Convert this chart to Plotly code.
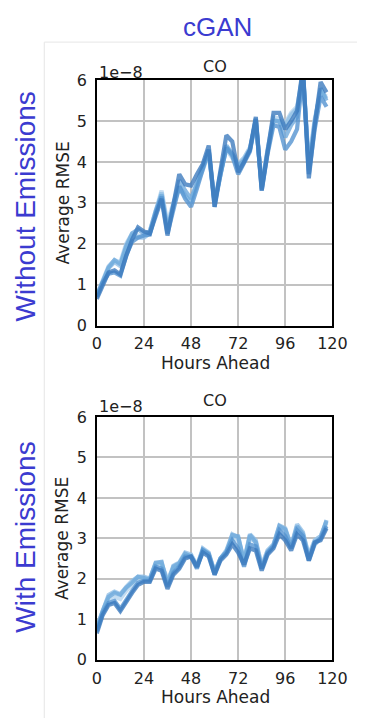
import plotly.graph_objects as go

W, H = 372, 728

hours = [0, 3, 6, 9, 12, 15, 18, 21, 24, 27, 30, 33, 36, 39, 42, 45, 48, 51, 54, 57,
         60, 63, 66, 69, 72, 75, 78, 81, 84, 87, 90, 93, 96, 99, 102, 105, 108, 111, 114, 117]

# Without emissions (values in units of 1e-8)
top_a = [0.65, 1.0, 1.3, 1.35, 1.25, 1.7, 2.1, 2.4, 2.3, 2.25, 2.7, 3.1, 2.2, 2.9, 3.7, 3.45, 3.42, 3.7, 3.95, 4.4,
         2.9, 3.8, 4.65, 4.5, 3.75, 4.0, 4.3, 5.1, 3.3, 4.25, 5.2, 5.2, 4.8, 5.0, 5.25, 6.3, 3.6, 4.9, 5.95, 5.7]
top_b = [0.7, 1.05, 1.27, 1.3, 1.22, 1.72, 2.05, 2.15, 2.2, 2.22, 2.75, 3.15, 2.25, 2.85, 3.4, 3.1, 2.9, 3.35, 3.85, 4.3,
         2.9, 3.7, 4.35, 4.15, 3.7, 4.0, 4.25, 5.05, 3.3, 4.2, 4.9, 4.85, 4.3, 4.5, 4.8, 6.2, 3.7, 4.8, 5.6, 5.35]
top_c = [0.72, 1.1, 1.42, 1.6, 1.5, 1.95, 2.25, 2.35, 2.25, 2.3, 2.8, 3.2, 2.35, 2.95, 3.55, 3.3, 3.1, 3.5, 3.9, 4.3,
         3.0, 3.75, 4.4, 4.2, 3.9, 4.05, 4.3, 5.05, 3.35, 4.25, 5.0, 5.0, 4.6, 4.9, 5.1, 6.25, 3.8, 4.95, 5.8, 5.5]
top_d = [0.7, 1.08, 1.4, 1.55, 1.45, 1.9, 2.2, 2.15, 2.15, 2.25, 2.8, 3.25, 2.4, 2.9, 3.4, 3.2, 3.0, 3.45, 3.85, 4.25,
         3.0, 3.7, 4.35, 4.2, 3.95, 4.1, 4.35, 5.0, 3.4, 4.3, 5.05, 4.95, 4.9, 5.15, 5.3, 6.2, 3.9, 5.0, 5.75, 5.55]
top_e = [0.75, 1.1, 1.45, 1.6, 1.55, 2.0, 2.25, 2.2, 2.2, 2.3, 2.85, 3.3, 2.5, 3.0, 3.35, 3.15, 3.05, 3.4, 3.8, 4.2,
         3.05, 3.75, 4.3, 4.1, 3.85, 4.05, 4.3, 4.95, 3.45, 4.3, 5.1, 5.05, 4.95, 5.2, 5.35, 6.1, 3.95, 5.05, 5.7, 5.6]

# With emissions
bot_a = [0.65, 1.1, 1.35, 1.4, 1.2, 1.45, 1.65, 1.85, 1.92, 1.92, 2.25, 2.2, 1.75, 2.1, 2.25, 2.5, 2.55, 2.3, 2.65, 2.55,
         2.1, 2.45, 2.6, 2.85, 2.65, 2.35, 2.75, 2.7, 2.2, 2.6, 2.75, 3.1, 2.95, 2.7, 3.1, 2.95, 2.45, 2.9, 2.95, 3.25]
bot_b = [0.7, 1.15, 1.4, 1.45, 1.25, 1.5, 1.7, 1.9, 1.95, 1.95, 2.3, 2.25, 1.8, 2.15, 2.3, 2.55, 2.55, 2.25, 2.7, 2.6,
         2.1, 2.5, 2.65, 2.95, 2.75, 2.3, 2.85, 2.8, 2.25, 2.65, 2.8, 3.2, 3.05, 2.75, 3.2, 3.05, 2.45, 2.85, 3.0, 3.3]
bot_c = [0.75, 1.2, 1.55, 1.65, 1.6, 1.78, 1.9, 2.05, 2.02, 1.98, 2.4, 2.42, 1.85, 2.3, 2.38, 2.62, 2.55, 2.28, 2.72, 2.62,
         2.15, 2.5, 2.65, 3.08, 3.05, 2.4, 3.08, 2.9, 2.25, 2.65, 2.82, 3.3, 3.22, 2.78, 3.3, 3.1, 2.5, 2.9, 3.0, 3.45]
bot_d = [0.8, 1.2, 1.6, 1.68, 1.62, 1.8, 1.95, 2.05, 2.05, 2.0, 2.38, 2.4, 1.9, 2.32, 2.4, 2.65, 2.6, 2.3, 2.75, 2.65,
         2.15, 2.5, 2.7, 3.1, 3.02, 2.45, 3.1, 2.95, 2.3, 2.7, 2.85, 3.32, 3.25, 2.8, 3.35, 3.15, 2.55, 2.95, 3.05, 3.42]
bot_e = [0.78, 1.18, 1.5, 1.55, 1.5, 1.7, 1.85, 2.0, 2.0, 2.0, 2.35, 2.35, 2.0, 2.25, 2.35, 2.6, 2.58, 2.35, 2.7, 2.6,
         2.2, 2.5, 2.7, 3.0, 2.95, 2.5, 3.0, 2.9, 2.35, 2.7, 2.85, 3.25, 3.2, 2.85, 3.25, 3.1, 2.6, 2.95, 3.05, 3.38]

x_ticks = [0, 24, 48, 72, 96, 120]
y_ticks = [0, 1, 2, 3, 4, 5, 6]
line_colors = ["#b5d4ef", "#91bfe6", "#6fa9dc", "#5392d0", "#3a79bd"]

TITLE_BLUE = "#3b3bd0"
AX_FONT = "DejaVu Sans"

def px_x(p):
    return p / W

def px_y(p):
    return 1 - p / H

fig = go.Figure()

panels = [
    (["x", "y"], [top_e, top_d, top_c, top_b, top_a]),
    (["x2", "y2"], [bot_e, bot_d, bot_c, bot_b, bot_a]),
]
for (xa, ya), series in panels:
    for s, c in zip(series, line_colors):
        fig.add_trace(go.Scatter(x=hours, y=s, mode="lines", xaxis=xa, yaxis=ya,
                                 line=dict(color=c, width=4.2), opacity=0.78,
                                 showlegend=False, hoverinfo="skip"))

xdom = [px_x(97), px_x(346)]
top_y = [px_y(325), px_y(73)]
bot_y = [px_y(668), px_y(419)]

axis_common = dict(showline=True, linecolor="black", linewidth=1.5, mirror=True,
                   showgrid=True, gridcolor="#c2c2c2", gridwidth=1.5, zeroline=False,
                   ticks="", tickfont=dict(family=AX_FONT, size=16, color="#222"))

fig.update_layout(
    width=W, height=H, margin=dict(l=0, r=0, t=0, b=0),
    paper_bgcolor="white", plot_bgcolor="white",
    xaxis=dict(domain=xdom, anchor="y", range=[0, 120], tickvals=x_ticks,
               ticklabelstandoff=3, **axis_common),
    yaxis=dict(domain=top_y, anchor="x", range=[0, 6], tickvals=y_ticks,
               ticklabelstandoff=5, **axis_common),
    xaxis2=dict(domain=xdom, anchor="y2", range=[0, 120], tickvals=x_ticks,
                ticklabelstandoff=3, **axis_common),
    yaxis2=dict(domain=bot_y, anchor="x2", range=[0, 6], tickvals=y_ticks,
                ticklabelstandoff=5, **axis_common),
)

ann = []

def add_text(text, x, y, size, family, color="#222", angle=0, xanchor="center", yanchor="middle"):
    ann.append(dict(text=text, x=px_x(x), y=px_y(y), xref="paper", yref="paper",
                    showarrow=False, font=dict(family=family, size=size, color=color),
                    textangle=angle, xanchor=xanchor, yanchor=yanchor))

add_text("cGAN", 225, 18, 26, "Liberation Sans", TITLE_BLUE)
add_text("Without Emissions", 22, 203, 28, "Liberation Sans", TITLE_BLUE, angle=-90)
add_text("With Emissions", 22, 542, 28, "Liberation Sans", TITLE_BLUE, angle=-90)

for (top, bottom, co_y, exp_y) in [(73, 325, 59, 65), (419, 668, 402, 408)]:
    add_text("CO", 222, co_y, 16, AX_FONT)
    add_text("1e\u22128", 97, exp_y, 16, AX_FONT, xanchor="left")
    add_text("Average RMSE", 61, (top + bottom) / 2, 17, AX_FONT, angle=-90)
    add_text("Hours Ahead", 222, bottom + 38, 17, AX_FONT)

fig.update_layout(annotations=ann)

# faint panel frame
fig.add_shape(type="line", xref="paper", yref="paper", x0=px_x(41.5), x1=px_x(41.5),
              y0=px_y(34), y1=0, line=dict(color="#e6e6e6", width=1))
fig.add_shape(type="line", xref="paper", yref="paper", x0=px_x(41.5), x1=1,
              y0=px_y(34), y1=px_y(34), line=dict(color="#e6e6e6", width=1))

fig.write_html("out.html", config={"displayModeBar": False},
               post_script="document.body.style.margin='0';")
